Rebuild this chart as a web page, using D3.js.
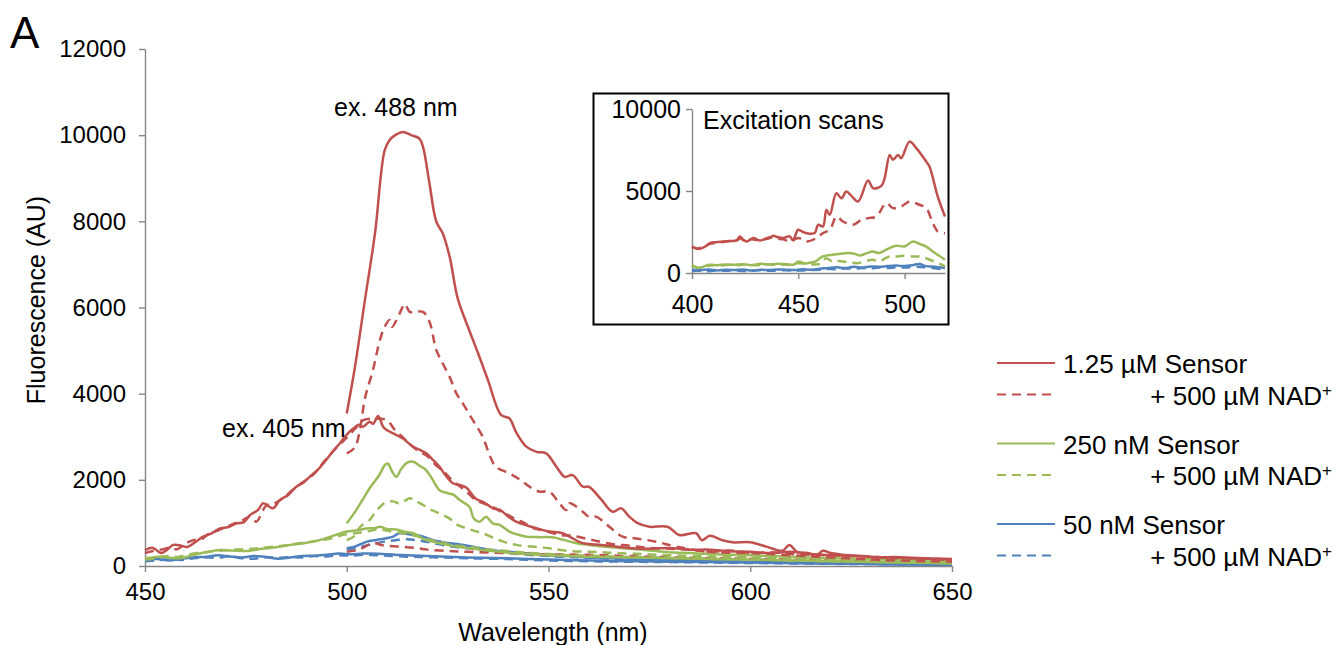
<!DOCTYPE html>
<html lang="en">
<head>
<meta charset="UTF-8">
<title>Fluorescence emission spectra</title>
<style>
  body { margin: 0; background: #fff; }
  svg text { font-family: "Liberation Sans", Arial, sans-serif; fill: #000; }
  .axis path, .axis line { stroke: #868686; stroke-width: 1.4; }
  .axis text { font-size: 24px; }
  .inset .axis text { font-size: 25px; }
</style>
</head>
<body>
<div id="chart"></div>
<script src="https://d3js.org/d3.v7.min.js"></script>
<script>
// ---- main panel: emission spectra (nm, AU) ----
var xTicks = [450, 500, 550, 600, 650];
var yTicks = [0, 2000, 4000, 6000, 8000, 10000, 12000];

// excitation 488 nm (start at 500 nm)
var red488 = [[500,3540],[502,4600],[504.5,6170],[507,7720],[509.4,9650],[510.6,9880],[512,10000],[513.9,10075],[516,10000],[518,9920],[518.9,9730],[520.5,8880],[522.2,7990],[523.8,7720],[525.5,7180],[527.5,6210],[530,5560],[532.5,4950],[535,4315],[538.3,3500],[540.3,3430],[542,3100],[544.5,2770],[547,2650],[549.4,2615],[552,2300],[554,2070],[556,2110],[558.5,1840],[560,1840],[563,1550],[565.9,1260],[568,1340],[570,1145],[572,1000],[575,910],[579.5,910],[582.4,720],[586.6,760],[588,600],[590,700],[593,600],[595.6,550],[600,550],[604,450],[608,355],[609.7,490],[611.7,320],[614.6,300],[616,215],[618,355],[620,300],[624,250],[628,230],[632,200],[636,210],[640,180],[645,170],[650,160]];
var red488NAD = [[500,2615],[502,2750],[503.5,3300],[504.5,3890],[506.5,4550],[508.2,5240],[509.4,5550],[510.6,5710],[511.2,5550],[513.1,5860],[514.4,6080],[515.6,5900],[517.2,5900],[518.9,5900],[520.5,5670],[522.2,5010],[523.8,4700],[525.5,4390],[527.2,4000],[528.8,3770],[531.2,3390],[533.7,3000],[535.4,2575],[537,2300],[540.3,2150],[543,2000],[545.3,1840],[547.8,1725],[550.2,1725],[552.7,1455],[554.4,1300],[555.2,1455],[558.5,1260],[560,1145],[561.8,1145],[565.1,910],[568.4,680],[571.7,640],[576.6,565],[581.6,450],[590,330],[600,300],[610,250],[620,200],[630,150],[640,120],[650,100]];
var green488 = [[500,990],[502,1250],[504,1550],[506,1850],[508,2100],[509.5,2350],[510.2,2380],[511.2,2200],[512.3,2070],[513.5,2250],[515,2400],[516.5,2420],[518,2330],[519.5,2240],[521,2050],[523,1760],[525,1690],[526.5,1650],[528,1530],[530.4,1375],[531.5,1100],[533,1030],[534.5,1145],[536.2,990],[538,950],[540.3,800],[542,740],[544.5,680],[548,670],[551,665],[554,600],[557,530],[560,490],[565,440],[570,400],[575,360],[580,320],[585,300],[590,280],[595,260],[600,250],[610,210],[620,180],[630,160],[640,140],[650,120]];
var green488NAD = [[500,600],[502,700],[503.2,900],[505.7,1070],[507.5,1300],[509.8,1490],[511.5,1500],[513,1455],[514.5,1520],[515.6,1570],[517,1520],[518.9,1415],[521,1300],[523,1220],[525.5,1100],[527.5,950],[529.6,880],[531.5,820],[533.7,760],[536.2,660],[539,560],[542,490],[546,450],[550.2,410],[554.4,355],[560,330],[565,310],[570,290],[575,270],[580,250],[590,220],[600,200],[610,180],[620,150],[630,130],[640,110],[650,90]];
var blue488 = [[500,410],[502,450],[505,565],[507,600],[508.2,620],[510,650],[511.5,680],[513,760],[515,740],[517.2,720],[519,680],[521.4,600],[523.5,560],[525.5,530],[528,500],[530,470],[533,420],[535.4,370],[540,330],[545,290],[550,250],[555,230],[560,200],[570,170],[580,140],[590,120],[600,100],[610,80],[620,70],[630,50],[640,40],[650,30]];
var blue488NAD = [[500,380],[503,430],[506,500],[509,560],[512,600],[515,620],[518,590],[521,540],[524,480],[527,440],[530,410],[535,340],[540,300],[545,260],[550,230],[560,190],[570,160],[580,130],[590,110],[600,90],[620,60],[650,30]];
var redLowNAD = [[500,330],[503,380],[506.5,530],[509,480],[513,450],[517,420],[520,380],[525,350],[530,330],[540,300],[550,270],[560,260],[570,230],[580,200],[590,180],[600,170],[620,130],[650,90]];

// excitation 405 nm (start at 450 nm)
var red405 = [[450,370],[452,420],[454,300],[455.5,380],[457,490],[459,470],[460.5,440],[462.5,560],[464.4,680],[466.5,760],[468.6,870],[470.5,900],[472.7,990],[474.5,1020],[476,1180],[478,1300],[479.3,1455],[481.7,1340],[483.4,1530],[485.5,1650],[487.5,1840],[489,1920],[490.8,2070],[493,2250],[494.9,2460],[496.5,2650],[498.3,2850],[500,3050],[501.6,3190],[503,3280],[504,3230],[505.7,3350],[506.5,3300],[507.8,3480],[509,3230],[510,3150],[511.5,3080],[513.9,2960],[516.4,2770],[518,2700],[519.7,2615],[521.5,2450],[523,2300],[524.5,2100],[526.3,1920],[528,1880],[529.6,1820],[532,1560],[534,1480],[536.2,1340],[538,1300],[540,1150],[542,1030],[544,960],[545.7,910],[548,850],[550.2,800],[553.5,760],[556,640],[558.5,530],[562,500],[566.7,450],[570,420],[575,400],[580,420],[585,380],[590,380],[595,340],[600,330],[605,300],[610,330],[615,280],[620,250],[625,240],[630,210],[635,200],[640,190],[645,170],[650,150]];
var red405NAD = [[450,300],[452,350],[454,380],[456,420],[458,390],[460,520],[462,600],[464,620],[466,760],[468,820],[470,900],[472,980],[474,1050],[476,1150],[477.6,1030],[480,1400],[482,1450],[484,1560],[486,1720],[488,1870],[490,2000],[492,2150],[494,2380],[496,2600],[498,2800],[500,2980],[502,3180],[504,3380],[506,3420],[508,3420],[510,3380],[512,3150],[514,2980],[516,2800],[518,2650],[520,2550],[522,2350],[524,2200],[526,2000],[528,1850],[530,1700],[532,1520],[534,1450],[536,1380],[538,1270],[540,1180],[542,1080],[544,1000],[546,880],[548,840],[550,790],[553,720],[556,700],[560,620],[565,520],[570,470],[575,420],[580,400],[585,380],[590,330],[595,360],[600,300],[605,320],[610,280],[615,260],[620,250],[625,230],[630,220],[635,190],[640,180],[645,170],[650,140]];
var green405 = [[450,180],[452,200],[454,220],[456,190],[458.7,180],[461,230],[463,280],[465,320],[468.6,370],[471,360],[474,350],[476,355],[479,400],[482,430],[486,490],[489,520],[493.3,600],[496,680],[500,800],[502.5,830],[504.9,870],[507,880],[508.2,910],[510,860],[512.3,850],[514,800],[516.4,760],[518,680],[519.7,600],[523,530],[527.2,450],[530,420],[533.7,370],[537.9,330],[542,290],[546,270],[550,250],[555,230],[560,215],[570,200],[580,180],[590,160],[600,150],[610,130],[620,110],[630,90],[640,75],[650,60]];
var green405NAD = [[450,150],[452,170],[454,210],[456,230],[458,210],[460,250],[463,300],[466,330],[469,360],[472,380],[475,390],[478,410],[481,440],[484,470],[487,510],[490,550],[493,590],[496,640],[499,720],[502,760],[505,800],[508,850],[511,800],[514,760],[517,700],[520,620],[523,560],[526,490],[530,450],[534,400],[538,360],[542,330],[546,300],[550,280],[555,250],[560,240],[570,210],[580,190],[590,170],[600,150],[610,130],[620,110],[630,95],[640,80],[650,70]];
var blue405 = [[450,140],[453,160],[456,130],[459,170],[462,200],[465.3,215],[468,250],[471,220],[474,200],[477,230],[480,210],[483,170],[486,200],[489,230],[492,240],[495,260],[498,290],[501,270],[504,290],[506,290],[509,280],[512,260],[515,250],[520,230],[525,215],[530,200],[540,180],[550,150],[560,130],[570,110],[580,100],[590,90],[600,80],[620,60],[650,30]];
var blue405NAD = [[450,110],[453,130],[456,160],[459,140],[462,180],[465,200],[468,190],[471,230],[474,180],[477,170],[480,200],[483,190],[486,210],[489,200],[492,230],[495,220],[498,250],[501,240],[504,260],[507,250],[510,240],[514,220],[518,210],[522,200],[526,190],[530,180],[540,160],[550,130],[560,110],[570,100],[580,90],[600,70],[620,50],[650,30]];

// ---- inset: excitation scans ----
var insetXTicks = [400, 450, 500];
var insetYTicks = [0, 5000, 10000];
var redEx = [[400,1620],[403,1460],[406,1600],[408.5,1825],[411,1880],[414.7,1920],[418,1950],[421,1985],[422.5,2230],[424,2050],[425.6,1920],[427,2000],[428.8,2130],[431.9,1985],[434,2050],[436.6,2130],[438.1,2270],[440,2200],[442.8,2130],[446,2230],[447.5,2000],[449.9,2635],[451.5,2550],[453.8,2435],[457.7,2435],[459.3,2940],[461.6,2840],[463.2,3850],[464.8,3550],[467.9,4870],[470.3,4565],[472.6,4970],[475,4700],[478.1,4360],[482.8,5640],[485.2,5170],[489.1,5310],[490.6,5780],[493,7200],[494.5,6900],[496.9,7200],[498.4,7000],[502.3,8010],[505.5,7610],[510.2,6790],[511.7,6490],[515.6,4660],[519,3445]];
var redExNAD = [[400,1580],[403,1500],[406,1650],[409,1800],[412,1850],[415,1900],[418,1950],[421,2000],[423,2100],[425,1900],[428,2050],[431,2000],[434,2080],[437,2180],[440,2100],[443,2050],[446,1925],[450,2130],[454,1925],[458.5,2130],[461.6,2435],[464.8,2635],[468,3445],[471,3140],[475.8,2940],[479.7,3245],[482.8,3345],[486.7,3445],[491.4,4260],[494.5,3955],[498.4,4055],[502.3,4360],[507,4160],[510.2,3955],[513.3,3040],[515.6,2530],[519,2430]];
var greenEx = [[400,505],[403,300],[406,420],[408,500],[412,480],[416,520],[420,500],[424,540],[428,480],[432,560],[436,520],[440,560],[444,540],[448,520],[450,700],[453,580],[456,640],[458,700],[461.6,1010],[466,1115],[470,1180],[474,1215],[477,1150],[479,1070],[482,1200],[485,1315],[488,1215],[491,1400],[493,1520],[496,1660],[500,1620],[504,1925],[507,1780],[510,1620],[514.3,1215],[519,810]];
var greenExNAD = [[400,450],[403,320],[406,400],[410,480],[414,460],[418,500],[422,480],[426,520],[430,470],[434,530],[438,510],[442,520],[446,500],[450,600],[454,560],[458,520],[461,600],[463,900],[466,700],[468,750],[471,700],[474,650],[478,600],[481,700],[485,810],[488,700],[491,900],[493,1010],[496,1000],[499,1050],[504,1010],[507,1000],[510,900],[514,700],[519,400]];
var blueEx = [[400,200],[404,180],[408,220],[412,160],[416,200],[420,180],[424,220],[428,150],[432,200],[436,180],[440,220],[444,200],[448,180],[452,230],[456,200],[460,260],[464,300],[468,350],[472,300],[476,380],[480,330],[484,400],[488,380],[492,420],[496,450],[500,420],[504,480],[507,550],[510,420],[514,380],[519,300]];
var blueExNAD = [[400,120],[404,140],[408,110],[412,150],[416,130],[420,160],[424,120],[428,140],[432,170],[436,130],[440,150],[444,170],[448,140],[452,160],[456,180],[460,200],[464,250],[468,230],[472,280],[476,260],[480,300],[484,280],[488,330],[492,300],[496,350],[500,330],[504,380],[508,360],[512,320],[519,220]];

var legendLabels = ["1.25 \u00b5M Sensor", "+ 500 \u00b5M NAD", "250 nM Sensor", "+ 500 \u00b5M NAD", "50 nM Sensor", "+ 500 \u00b5M NAD"];

var RED = "#c0504d", GREEN = "#9bbb59", BLUE = "#4f81bd";
var DASH = "9,6";

var mainSeries = [
  {d: blue405NAD, c: BLUE, dash: true}, {d: blue405, c: BLUE},
  {d: blue488NAD, c: BLUE, dash: true}, {d: blue488, c: BLUE},
  {d: redLowNAD, c: RED, dash: true},
  {d: green405NAD, c: GREEN, dash: true}, {d: green405, c: GREEN},
  {d: green488NAD, c: GREEN, dash: true}, {d: green488, c: GREEN},
  {d: red405NAD, c: RED, dash: true}, {d: red405, c: RED},
  {d: red488NAD, c: RED, dash: true}, {d: red488, c: RED}
];
var insetSeries = [
  {d: blueExNAD, c: BLUE, dash: true}, {d: blueEx, c: BLUE},
  {d: greenExNAD, c: GREEN, dash: true}, {d: greenEx, c: GREEN},
  {d: redExNAD, c: RED, dash: true}, {d: redEx, c: RED}
];

var svg = d3.select("#chart").append("svg")
  .attr("width", 1336).attr("height", 645);

var fmt = d3.format("d");

// main scales
var x = d3.scaleLinear().domain([450, 650]).range([145, 952]);
var y = d3.scaleLinear().domain([0, 12000]).range([566, 49]);

var line = d3.line()
  .x(function(d) { return x(d[0]); })
  .y(function(d) { return y(d[1]); })
  .curve(d3.curveCatmullRom.alpha(0.5));

svg.append("g").attr("class", "axis")
  .attr("transform", "translate(145,0)")
  .call(d3.axisLeft(y).tickValues(yTicks).tickFormat(fmt).tickSize(6).tickSizeOuter(0).tickPadding(13));

svg.append("g").attr("class", "axis")
  .attr("transform", "translate(0,566)")
  .call(d3.axisBottom(x).tickValues(xTicks).tickFormat(fmt).tickSize(6).tickSizeOuter(0).tickPadding(11));

svg.selectAll(".axis .domain").attr("stroke", "#868686");

svg.append("g").selectAll("path")
  .data(mainSeries)
  .enter().append("path")
    .attr("d", function(s) { return line(s.d); })
    .attr("fill", "none")
    .attr("stroke", function(s) { return s.c; })
    .attr("stroke-width", 2.5)
    .attr("stroke-dasharray", function(s) { return s.dash ? DASH : null; });

// labels
svg.append("text").attr("x", 10).attr("y", 48).style("font-size", "44px").text("A");
svg.append("text").attr("transform", "translate(45,300) rotate(-90)")
  .attr("text-anchor", "middle").style("font-size", "25px").text("Fluorescence (AU)");
svg.append("text").attr("x", 553).attr("y", 641)
  .attr("text-anchor", "middle").style("font-size", "25px").text("Wavelength (nm)");
svg.append("text").attr("x", 334).attr("y", 116).style("font-size", "25px").text("ex. 488 nm");
svg.append("text").attr("x", 222).attr("y", 437).style("font-size", "25px").text("ex. 405 nm");

// inset
var inset = svg.append("g").attr("class", "inset");
inset.append("rect")
  .attr("x", 593.5).attr("y", 93.5).attr("width", 355).attr("height", 231)
  .attr("fill", "#fff").attr("stroke", "#000").attr("stroke-width", 2);

var xi = d3.scaleLinear().domain([400, 519]).range([692, 945]);
var yi = d3.scaleLinear().domain([0, 10000]).range([273, 109]);
var lineI = d3.line()
  .x(function(d) { return xi(d[0]); })
  .y(function(d) { return yi(d[1]); })
  .curve(d3.curveCatmullRom.alpha(0.5));

inset.append("g").attr("class", "axis")
  .attr("transform", "translate(692,0)")
  .call(d3.axisLeft(yi).tickValues(insetYTicks).tickFormat(fmt).tickSize(6).tickSizeOuter(0).tickPadding(5));
inset.append("g").attr("class", "axis")
  .attr("transform", "translate(0,273)")
  .call(d3.axisBottom(xi).tickValues(insetXTicks).tickFormat(fmt).tickSize(6).tickSizeOuter(0).tickPadding(16));

inset.append("g").selectAll("path")
  .data(insetSeries)
  .enter().append("path")
    .attr("d", function(s) { return lineI(s.d); })
    .attr("fill", "none")
    .attr("stroke", function(s) { return s.c; })
    .attr("stroke-width", 2.5)
    .attr("stroke-dasharray", function(s) { return s.dash ? DASH : null; });

inset.append("text").attr("x", 703).attr("y", 129).style("font-size", "25px").text("Excitation scans");

// legend
var legendColors = [RED, RED, GREEN, GREEN, BLUE, BLUE];
var legend = svg.append("g").selectAll("g")
  .data(legendLabels)
  .enter().append("g")
    .attr("transform", function(d, i) {
      return "translate(0," + (363 + Math.floor(i / 2) * 80.5 + (i % 2) * 31.5) + ")";
    });

legend.append("line")
  .attr("x1", 997).attr("x2", 1055).attr("y1", 0).attr("y2", 0)
  .attr("stroke", function(d, i) { return legendColors[i]; })
  .attr("stroke-width", 2)
  .attr("stroke-dasharray", function(d, i) { return i % 2 ? DASH : null; });

legend.each(function(d, i) {
  var t = d3.select(this).append("text").attr("y", 10).style("font-size", "26px");
  if (i % 2 === 0) {
    t.attr("x", 1063).text(d);
  } else {
    t.attr("x", 1332).attr("text-anchor", "end");
    t.append("tspan").text(d);
    t.append("tspan").attr("dy", -9).style("font-size", "17px").text("+");
  }
});
</script>
</body>
</html>
